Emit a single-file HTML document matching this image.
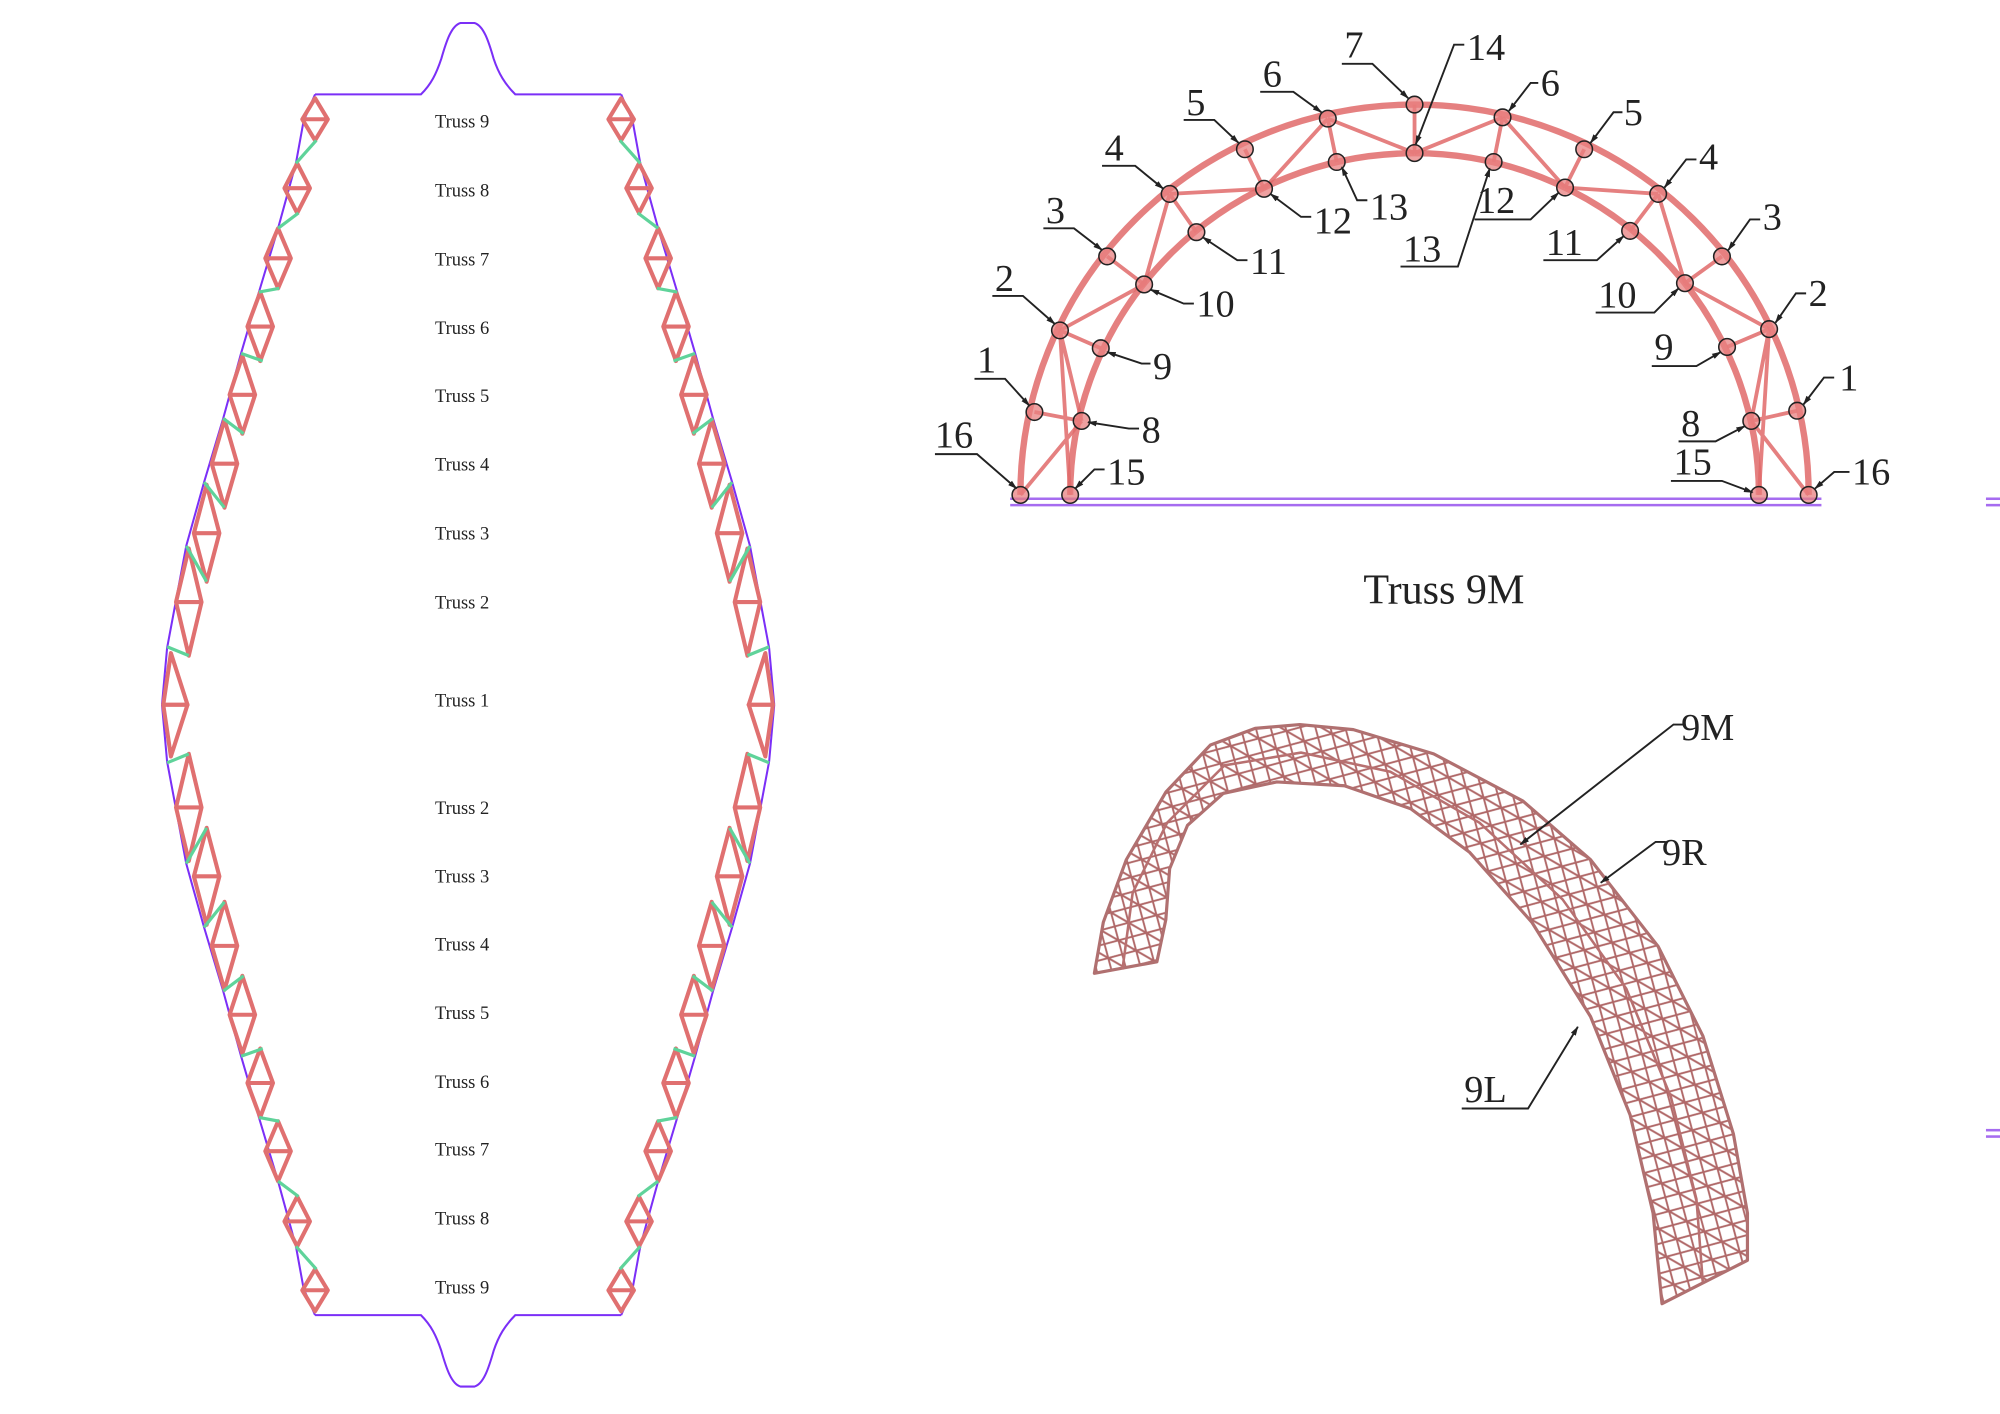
<!DOCTYPE html>
<html><head><meta charset="utf-8"><style>
html,body{margin:0;padding:0;background:#fff;}
svg{display:block;}
text{font-family:"Liberation Serif",serif;fill:#222;}
</style></head><body>
<svg width="2000" height="1414" viewBox="0 0 1568 1108.5" preserveAspectRatio="none" xmlns="http://www.w3.org/2000/svg">
<defs>
<marker id="ar" viewBox="0 0 10 10" refX="9" refY="5" markerWidth="5" markerHeight="5" orient="auto"><path d="M0,2 L10,5 L0,8 Z" fill="#222"/></marker>
<g id="q">
  <path d="M247,74 L238,95 L232,128 L218,179 L203,229 L189,277 L175,328 L160,378 L146,428 L131,508 L127,552.5" fill="none" stroke="#7b2ff7" stroke-width="1.6"/>
  <g fill="none" stroke="#e07070" stroke-width="3.2" stroke-linejoin="round">
    <path d="M247,77 L257,93.5 L247,110 L237,93.5 Z M237,93.5 H257"/>
    <path d="M233,128 L243,147.5 L233,167 L223,147.5 Z M223,147.5 H243"/>
    <path d="M218,179 L228,202.5 L218,226 L208,202.5 Z M208,202.5 H228"/>
    <path d="M204,229 L214,256 L204,283 L194,256 Z M194,256 H214"/>
    <path d="M190,279 L200,309.5 L190,340 L180,309.5 Z M180,309.5 H200"/>
    <path d="M176,329 L186,363.5 L176,398 L166,363.5 Z M166,363.5 H186"/>
    <path d="M162,380 L172,418 L162,456 L152,418 Z M152,418 H172"/>
    <path d="M148,430 L158,472 L148,514 L138,472 Z M138,472 H158"/>
    <path d="M134,512 L147,552.5 L128,552.5 Z M128,552.5 H147"/>
  </g>
  <g stroke="#5fd39a" stroke-width="2.5">
    <line x1="248" y1="110" x2="232" y2="128"/>
    <line x1="234" y1="167" x2="218" y2="179"/>
    <line x1="219" y1="226" x2="203" y2="229"/>
    <line x1="206" y1="283" x2="189" y2="277"/>
    <line x1="191" y1="340" x2="175" y2="328"/>
    <line x1="176" y1="398" x2="160" y2="378"/>
    <line x1="162" y1="456" x2="146" y2="428"/>
    <line x1="148" y1="514" x2="131" y2="507"/>
  </g>
</g>
<g id="half">
  <use href="#q"/>
  <use href="#q" transform="translate(734,0) scale(-1,1)"/>
  <path d="M247,74 H330 C338,66 342,58 346,46 C350,32 354,20 361,18 H372 C379,20 383,32 387,46 C391,58 396,66 404,74 H487" fill="none" stroke="#7b2ff7" stroke-width="1.6"/>
</g>
<pattern id="hatch" width="16" height="16" patternUnits="userSpaceOnUse" patternTransform="rotate(30)">
  <path d="M0,0 L16,16 M16,0 L0,16 M0,8 H16" stroke="#b06868" stroke-width="1.5" fill="none"/>
</pattern>
</defs>

<use href="#half"/>
<use href="#half" transform="translate(0,1105) scale(1,-1)"/>
<g font-size="14.5">
<text x="341" y="100">Truss 9</text>
<text x="341" y="154">Truss 8</text>
<text x="341" y="208">Truss 7</text>
<text x="341" y="262">Truss 6</text>
<text x="341" y="315">Truss 5</text>
<text x="341" y="369">Truss 4</text>
<text x="341" y="423">Truss 3</text>
<text x="341" y="477">Truss 2</text>
<text x="341" y="554">Truss 1</text>
<text x="341" y="638">Truss 2</text>
<text x="341" y="692">Truss 3</text>
<text x="341" y="745">Truss 4</text>
<text x="341" y="799">Truss 5</text>
<text x="341" y="853">Truss 6</text>
<text x="341" y="906">Truss 7</text>
<text x="341" y="960">Truss 8</text>
<text x="341" y="1014">Truss 9</text>
</g>

<line x1="792" y1="391" x2="1428" y2="391" stroke="#a66cf0" stroke-width="2"/>
<line x1="792" y1="396" x2="1428" y2="396" stroke="#a66cf0" stroke-width="2"/>
<g fill="none" stroke="#e06a6a" stroke-opacity="0.85">
  <path d="M800,388 A309,306 0 0 1 1418,388" stroke-width="5"/>
  <path d="M839,388 A270,268 0 0 1 1379,388" stroke-width="5"/>
  <g stroke-width="3">
    <path d="M800,388 L848,330 M811,323 L848,330 M848,330 L831,259 M839,388 L831,259 M831,259 L863,273 M831,259 L897,223 M868,201 L897,223 M897,223 L917,152 M917,152 L938,182 M917,152 L991,148 M976,117 L991,148 M991,148 L1041,93 M1041,93 L1048,127 M1041,93 L1109,120 M1109,82 L1109,120 M1109,120 L1178,92"/>
    <path d="M1418,388 L1373,330 M1409,322 L1373,330 M1373,330 L1387,258 M1379,388 L1387,258 M1387,258 L1354,272 M1387,258 L1321,222 M1350,201 L1321,222 M1321,222 L1300,152 M1300,152 L1278,181 M1300,152 L1227,147 M1242,117 L1227,147 M1227,147 L1178,92 M1178,92 L1171,127"/>
  </g>
</g>
<g fill="#e88080" fill-opacity="0.75" stroke="#222" stroke-width="1.2">
  <circle cx="800" cy="388" r="6.5"/><circle cx="811" cy="323" r="6.5"/><circle cx="831" cy="259" r="6.5"/><circle cx="868" cy="201" r="6.5"/><circle cx="917" cy="152" r="6.5"/><circle cx="976" cy="117" r="6.5"/><circle cx="1041" cy="93" r="6.5"/><circle cx="1109" cy="82" r="6.5"/><circle cx="1178" cy="92" r="6.5"/><circle cx="1242" cy="117" r="6.5"/><circle cx="1300" cy="152" r="6.5"/><circle cx="1350" cy="201" r="6.5"/><circle cx="1387" cy="258" r="6.5"/><circle cx="1409" cy="322" r="6.5"/><circle cx="1418" cy="388" r="6.5"/>
  <circle cx="839" cy="388" r="6.5"/><circle cx="848" cy="330" r="6.5"/><circle cx="863" cy="273" r="6.5"/><circle cx="897" cy="223" r="6.5"/><circle cx="938" cy="182" r="6.5"/><circle cx="991" cy="148" r="6.5"/><circle cx="1048" cy="127" r="6.5"/><circle cx="1109" cy="120" r="6.5"/><circle cx="1171" cy="127" r="6.5"/><circle cx="1227" cy="147" r="6.5"/><circle cx="1278" cy="181" r="6.5"/><circle cx="1321" cy="222" r="6.5"/><circle cx="1354" cy="272" r="6.5"/><circle cx="1373" cy="330" r="6.5"/><circle cx="1379" cy="388" r="6.5"/>
</g>
<g fill="none" stroke="#222" stroke-width="1.5">
  <path d="M733,356 H766 L797,383" marker-end="url(#ar)"/><path d="M764,297 H788 L807,318" marker-end="url(#ar)"/><path d="M778,232 H802 L827,254" marker-end="url(#ar)"/><path d="M818,179 H842 L864,196" marker-end="url(#ar)"/><path d="M864,130 H890 L912,148" marker-end="url(#ar)"/><path d="M928,94 H952 L971,112" marker-end="url(#ar)"/><path d="M988,72 H1014 L1036,88" marker-end="url(#ar)"/><path d="M1052,50 H1076 L1104,77" marker-end="url(#ar)"/>
  <path d="M1148,35 H1140 L1110,113" marker-end="url(#ar)"/>
  <path d="M1206,65 H1200 L1183,87" marker-end="url(#ar)"/><path d="M1272,88 H1265 L1247,112" marker-end="url(#ar)"/><path d="M1330,125 H1322 L1305,147" marker-end="url(#ar)"/><path d="M1380,172 H1372 L1355,196" marker-end="url(#ar)"/><path d="M1416,230 H1408 L1392,253" marker-end="url(#ar)"/><path d="M1438,296 H1430 L1414,317" marker-end="url(#ar)"/><path d="M1450,370 H1438 L1423,383" marker-end="url(#ar)"/>
  <path d="M866,368 H858 L843,383" marker-end="url(#ar)"/><path d="M893,336 H885 L853,331" marker-end="url(#ar)"/><path d="M902,285 H895 L868,276" marker-end="url(#ar)"/><path d="M936,238 H928 L902,227" marker-end="url(#ar)"/><path d="M978,204 H970 L943,186" marker-end="url(#ar)"/><path d="M1028,170 H1020 L996,152" marker-end="url(#ar)"/><path d="M1072,157 H1064 L1052,131" marker-end="url(#ar)"/>
  <path d="M1156,172 H1200 L1222,151" marker-end="url(#ar)"/><path d="M1098,209 H1143 L1168,132" marker-end="url(#ar)"/><path d="M1210,204 H1252 L1273,185" marker-end="url(#ar)"/><path d="M1251,245 H1297 L1316,226" marker-end="url(#ar)"/><path d="M1295,287 H1330 L1349,276" marker-end="url(#ar)"/><path d="M1316,346 H1345 L1368,334" marker-end="url(#ar)"/><path d="M1310,377 H1350 L1374,386" marker-end="url(#ar)"/>
</g>
<g font-size="30">
  <text x="733" y="351">16</text><text x="766" y="292">1</text><text x="780" y="228">2</text><text x="820" y="175">3</text><text x="866" y="126">4</text><text x="930" y="90">5</text><text x="990" y="68">6</text><text x="1054" y="45">7</text>
  <text x="1150" y="47">14</text><text x="1208" y="75">6</text><text x="1273" y="98">5</text><text x="1332" y="133">4</text><text x="1382" y="180">3</text><text x="1418" y="240">2</text><text x="1442" y="306">1</text><text x="1452" y="380">16</text>
  <text x="868" y="380">15</text><text x="895" y="347">8</text><text x="904" y="297">9</text><text x="938" y="248">10</text><text x="980" y="215">11</text><text x="1030" y="183">12</text><text x="1074" y="172">13</text>
  <text x="1158" y="167">12</text><text x="1100" y="205">13</text><text x="1212" y="200">11</text><text x="1253" y="241">10</text><text x="1297" y="282">9</text><text x="1318" y="342">8</text><text x="1312" y="372">15</text>
</g>
<text x="1132" y="473" font-size="33" text-anchor="middle">Truss 9M</text>

<path d="M858,763 L865,723 L883,674 L914,621 L949,584 L984,571 L1019,568 L1061,572 L1124,591 L1194,628 L1247,674 L1300,742 L1335,812 L1359,889 L1370,951 L1370,988 L1303,1022 L1296,951 L1278,874 L1247,797 L1201,723 L1152,668 L1106,634 L1054,616 L1001,613 L959,622 L931,647 L917,681 L914,721 L907,754 Z" fill="url(#hatch)" stroke="#b07070" stroke-width="2.5" stroke-linejoin="round"/>
<path d="M880,760 L888,700 L915,645 L960,600 L1020,590 L1090,605 L1160,645 L1225,705 L1275,775 L1310,860 L1330,940 L1335,1005" fill="none" stroke="#b87070" stroke-width="2"/>
<g fill="none" stroke="#222" stroke-width="1.5">
  <path d="M1320,568 H1312 L1192,662" marker-end="url(#ar)"/><path d="M1306,660 H1298 L1255,692" marker-end="url(#ar)"/><path d="M1146,869 H1198 L1237,805" marker-end="url(#ar)"/>
</g>
<g font-size="30"><text x="1318" y="580">9M</text><text x="1303" y="678">9R</text><text x="1148" y="864">9L</text></g>

<g stroke="#a66cf0" stroke-width="2"><line x1="1557" y1="391" x2="1568" y2="391"/><line x1="1557" y1="396" x2="1568" y2="396"/><line x1="1557" y1="886" x2="1568" y2="886"/><line x1="1557" y1="891" x2="1568" y2="891"/></g>
</svg>
</body></html>
